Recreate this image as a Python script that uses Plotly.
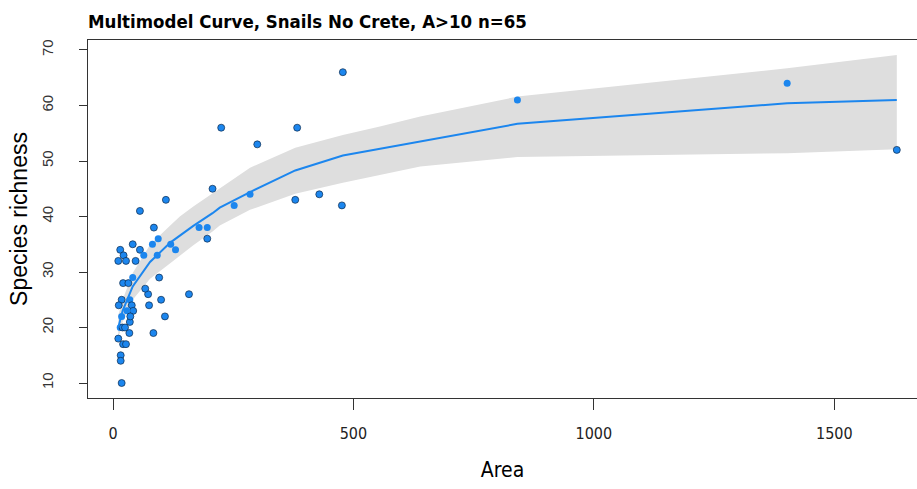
import numpy as np
import plotly.graph_objects as go

# Observed islands: area and snail species richness
area = [1630, 1402, 841, 478, 383, 379, 429, 476, 225, 300,
        207, 285, 252, 179, 196, 196, 110, 85, 94, 82,
        120, 130, 92, 96, 73, 67, 75, 100, 158, 108,
        84, 56, 41, 15, 56, 64, 22, 11, 27, 47,
        21, 32, 41, 18, 12, 35, 39, 42, 29, 18,
        18, 16, 16, 11, 21, 27, 34, 15, 20, 35,
        36, 25]
richness = [52, 64, 61, 66, 56, 43, 44, 42, 56, 53,
            45, 44, 42, 38, 38, 36, 43, 38, 36, 35,
            35, 34, 33, 29, 26, 27, 24, 25, 26, 22,
            19, 41, 35, 34, 34, 33, 33, 32, 32, 32,
            28, 28, 29, 25, 24, 25, 24, 23, 23, 22,
            10, 15, 14, 18, 17, 17, 19, 20, 20, 21,
            22, 20]

# Multimodel averaged fit and its confidence interval
fit_area = [11, 20, 41, 77, 119, 139, 167, 207, 222, 285, 379, 478, 555, 639, 841, 1402, 1630]
fit_rich = [20.0, 23.0, 27.4, 31.8, 35.3, 36.6, 38.3, 40.6, 41.6, 44.4, 48.3, 51.0, 52.2, 53.5, 56.7, 60.4, 61.0]
ci_upper = [22.2, 25.0, 29.8, 34.9, 38.4, 40.0, 41.8, 44.2, 45.0, 48.8, 52.4, 54.7, 56.2, 58.0, 61.6, 66.7, 69.1]
ci_lower = [18.0, 21.0, 25.0, 28.8, 31.6, 33.0, 34.8, 37.3, 38.4, 41.2, 44.1, 46.1, 47.5, 49.0, 50.7, 51.4, 52.1]

x_ticks = [0, 500, 1000, 1500]
y_ticks = [10, 20, 30, 40, 50, 60, 70]

BLUE = "#1C86EE"
BAND = "#DEDEDE"
AXIS = "#333333"
NARROW = "DejaVu Sans Condensed, Liberation Sans Narrow, Arial Narrow, sans-serif"

# points that fall inside the interval band lose their dark rim
a = np.array(area, dtype=float)
r = np.array(richness, dtype=float)
lo = np.interp(a, fit_area, ci_lower)
hi = np.interp(a, fit_area, ci_upper)
inside = (r > lo) & (r < hi)
rim_width = np.where(inside, 0.0, 0.7)

fig = go.Figure()

fig.add_trace(go.Scatter(x=fit_area, y=ci_lower, mode="lines",
                         line=dict(width=0, color=BAND), hoverinfo="skip",
                         showlegend=False))
fig.add_trace(go.Scatter(x=fit_area, y=ci_upper, mode="lines",
                         line=dict(width=0, color=BAND), fill="tonexty",
                         fillcolor=BAND, hoverinfo="skip", showlegend=False))

fig.add_trace(go.Scatter(x=area, y=richness, mode="markers",
                         marker=dict(size=7, color=BLUE,
                                     line=dict(color="#0d2a4a", width=rim_width)),
                         showlegend=False))

fig.add_trace(go.Scatter(x=fit_area, y=fit_rich, mode="lines",
                         line=dict(color=BLUE, width=2), showlegend=False))

fig.update_layout(
    width=917, height=489,
    margin=dict(l=88, r=0, t=40, b=91),
    paper_bgcolor="white", plot_bgcolor="white",
    title=dict(text="<b>Multimodel Curve, Snails No Crete, A>10 n=65</b>",
               font=dict(family=NARROW, size=18.5, color="black"),
               xref="container", x=88 / 917, xanchor="left",
               yref="container", y=1 - 22 / 489, yanchor="middle"),
    xaxis=dict(range=[-52, 1672], tickvals=x_ticks, ticktext=[str(v) for v in x_ticks],
               showgrid=False, zeroline=False,
               showline=True, mirror=True, linecolor=AXIS, linewidth=1,
               ticks="outside", ticklen=11, tickcolor=AXIS, tickwidth=1,
               tickfont=dict(family=NARROW, size=16, color="#222222"),
               ticklabelstandoff=10,
               title=dict(text="Area", standoff=20,
                          font=dict(family=NARROW, size=21, color="black"))),
    yaxis=dict(range=[7.3, 71.8], tickvals=y_ticks, ticktext=[str(v) for v in y_ticks],
               showgrid=False, zeroline=False,
               showline=True, mirror=False, linecolor=AXIS, linewidth=1,
               ticks="outside", ticklen=8, tickcolor=AXIS, tickwidth=1,
               tickangle=-90,
               tickfont=dict(family="Liberation Sans", size=15, color="#333333"),
               ticklabelstandoff=20,
               title=dict(text="Species richness", standoff=4,
                          font=dict(family="Liberation Sans", size=23, color="black"))),
)

fig.write_html("out.html")
